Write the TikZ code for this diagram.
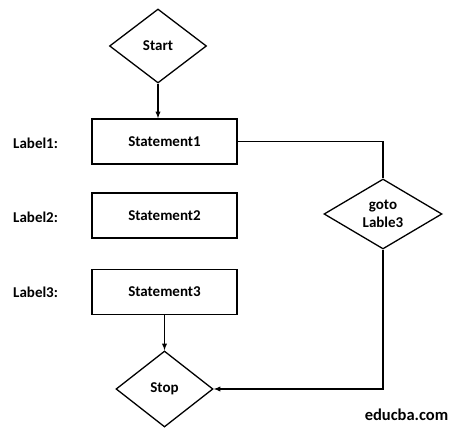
\documentclass[tikz,border=0pt]{standalone}
\usepackage{fontspec}
\setmainfont{Carlito}
\usetikzlibrary{shapes.geometric}
\tikzset{>=latex,
    decision/.style={shape=diamond, draw=black, line width=1.3pt, inner sep=0pt,
        align=center, font=\bfseries\fontsize{15}{18}\selectfont},
    process/.style={shape=rectangle, draw=black, line width=1.3pt,
        minimum width=145pt, minimum height=45pt, font=\bfseries\fontsize{15}{18}\selectfont},
    tag/.style={anchor=west, inner sep=0pt, font=\bfseries\fontsize{15}{18}\selectfont}}

\begin{document}
\begin{tikzpicture}[x=1pt, y=-1pt]
        \useasboundingbox (0,0) rectangle (461,435);

                    \node[decision, minimum width=97pt, minimum height=74pt] (start) at (158,46) {Start};
                    \node[process] (stmt1) at (164.5,141.5) {Statement1};
                    \node[process] (stmt2) at (164.5,215.5) {Statement2};
                    \node[process] (stmt3) at (164.5,292) {Statement3};
                    \node[decision, minimum width=97pt, minimum height=76pt] (stop) at (164.5,389) {Stop};
                    \node[decision, minimum width=118pt, minimum height=70pt] (goto) at (383,214) {goto\\Lable3};

                    \node[tag] (lab1) at (13,143) {Label1:};
                    \node[tag] (lab2) at (13,217) {Label2:};
                    \node[tag] (lab3) at (13,292) {Label3:};
                    \node[font=\bfseries\fontsize{16.5}{19}\selectfont] (site) at (406.5,415) {educba.com};

                    \draw[->, line width=1.3pt] (start.south) -- (start.south |- stmt1.north);
                    \draw[line width=1.3pt] (stmt1.east) -| (goto.north);
                    \draw[->, line width=1.3pt] (goto.south) |- (stop.east);
                    \draw[->, line width=1.3pt] (stmt3.south) -- (stop.north);

                \end{tikzpicture}
\end{document}
